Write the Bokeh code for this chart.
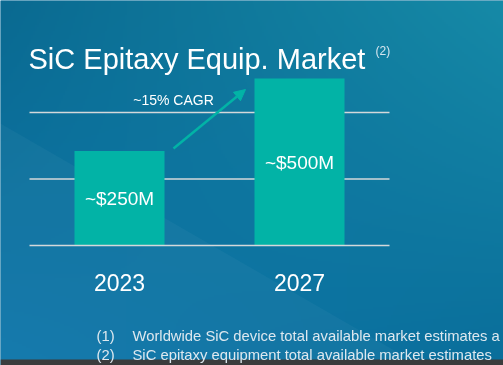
import numpy as np
from bokeh.plotting import figure
from bokeh.models import Range1d, Arrow, NormalHead, ColumnDataSource
from bokeh.core.properties import value
from bokeh.embed import file_html
from bokeh.resources import INLINE

# ---------------- data ----------------
categories = ["2023", "2027"]
bar_heights = [1.42, 2.51]          # bar heights as drawn, in gridline units
value_labels = ["~$250M", "~$500M"]
grid_levels = [0, 1, 2]
cagr_label = "~15% CAGR"
title_text = "SiC Epitaxy Equip. Market"
title_note = "(2)"
footnote_marks = ["(1)", "(2)"]
footnote_texts = ["Worldwide SiC device total available market estimates a",
                  "SiC epitaxy equipment total available market estimates"]

# ---------------- layout helpers ----------------
W, H = 503, 365
X_PX0, X_PXU = 29, 180.0     # pixel of x=-0.5, pixels per unit
Y_PX0, Y_PXU = 245, 66.5     # pixel of y=0, pixels per unit


def px2x(px):
    return -0.5 + (px - X_PX0) / X_PXU


def px2y(py):
    return (Y_PX0 - py) / Y_PXU


x_lo, x_hi = px2x(0), px2x(W)
y_lo, y_hi = px2y(H), px2y(0)

FONT = value("Liberation Sans")
BAR_COLOR = "#02b3a6"
GRID_COLOR = "#d4d8da"

p = figure(width=W, height=H, output_backend="svg", toolbar_location=None,
           x_axis_type=None, y_axis_type=None,
           x_range=Range1d(x_lo, x_hi), y_range=Range1d(y_lo, y_hi),
           min_border=0, outline_line_color=None,
           background_fill_color="#0b6f9b", border_fill_color="#0b6f9b")
p.styles = {"position": "fixed", "left": "0px", "top": "0px"}

# ---------------- background gradient ----------------
def hex2rgb(h):
    h = h.lstrip("#")
    return np.array([int(h[i:i + 2], 16) for i in (0, 2, 4)], dtype=float)


tl, tr = hex2rgb("#0a6a91"), hex2rgb("#168aa7")
bl, br = hex2rgb("#0e77ab"), hex2rgb("#0a6e9b")
gw, gh = 252, 183
u = np.linspace(0, 1, gw)[None, :, None]
v = np.linspace(0, 1, gh)[:, None, None]          # v=0 top
rgb = (tl * (1 - u) * (1 - v) + tr * u * (1 - v) + bl * (1 - u) * v + br * u * v)
rgb = rgb[::-1]                                    # row 0 = bottom
rgb = np.clip(rgb, 0, 255).astype(np.uint32)
img = (255 << 24) | (rgb[..., 2] << 16) | (rgb[..., 1] << 8) | rgb[..., 0]
img = img.astype(np.uint32)
p.image_rgba(image=[img], x=x_lo, y=y_lo, dw=x_hi - x_lo, dh=y_hi - y_lo)

# subtle lighter diagonal area on the left
p.patch(x=[px2x(0), px2x(420), px2x(0)], y=[px2y(123), px2y(365), px2y(365)],
        fill_color="white", fill_alpha=0.035, line_color=None)

# bottom dark strip
p.quad(left=[x_lo], right=[x_hi], top=[px2y(359)], bottom=[y_lo],
       fill_color="#3b3c3d", line_color=None)

# ---------------- gridlines & bars ----------------
xs = list(range(len(categories)))
g_x0, g_x1 = -0.5, len(categories) - 0.5
upper = [g for g in grid_levels if g > 0]
p.segment(x0=[g_x0] * len(upper), x1=[g_x1] * len(upper), y0=upper, y1=upper,
          line_color=GRID_COLOR, line_width=1.6)

src = ColumnDataSource(dict(x=xs, top=bar_heights, label=value_labels,
                            mid=[h / 2 for h in bar_heights], cat=categories))
p.vbar(x="x", top="top", bottom=0, width=0.5, source=src,
       fill_color=BAR_COLOR, line_color=None)

base = [g for g in grid_levels if g == 0]
p.segment(x0=[g_x0] * len(base), x1=[g_x1] * len(base), y0=base, y1=base,
          line_color=GRID_COLOR, line_width=1.6)

# value labels inside the bars
p.text(x="x", y="mid", text="label", source=src, text_color="white",
       text_font=FONT, text_font_size="19px", text_align="center",
       text_baseline="middle")

# category labels
p.text(x="x", y=px2y(282), text="cat", source=src, text_color="white",
       text_font=FONT, text_font_size="23px", text_align="center",
       text_baseline="alphabetic")

# ---------------- CAGR arrow ----------------
ax0, ay0 = xs[0] + 0.3, bar_heights[0] + 0.04
ax1, ay1 = xs[1] - 0.3, bar_heights[1] - 0.165
p.add_layout(Arrow(x_start=ax0, y_start=ay0, x_end=ax1, y_end=ay1,
                   line_color=BAR_COLOR, line_width=2.5,
                   end=NormalHead(size=11, fill_color=BAR_COLOR,
                                  line_color=BAR_COLOR)))
p.text(x=[ax0], y=[px2y(99)], text=[cagr_label], text_color="white",
       text_font=FONT, text_font_size="14px", text_align="center",
       text_baseline="alphabetic")

# ---------------- title ----------------
p.text(x=[px2x(28)], y=[px2y(58)], text=[title_text], text_color="white",
       text_font=FONT, text_font_size="29px", text_baseline="alphabetic")
p.text(x=[px2x(375)], y=[px2y(50)], text=[title_note], text_color="#d6e6ef",
       text_font=FONT, text_font_size="12px", text_baseline="alphabetic")

# ---------------- footnotes ----------------
fy = [px2y(335), px2y(354)]
p.text(x=[px2x(96)] * 2, y=fy, text=footnote_marks, text_color="#dde8ef",
       text_font=FONT, text_font_size="14.8px", text_baseline="alphabetic")
p.text(x=[px2x(132)] * 2, y=fy, text=footnote_texts, text_color="#dde8ef",
       text_font=FONT, text_font_size="14.8px", text_baseline="alphabetic")

open("out.html", "w").write(file_html(p, INLINE))
